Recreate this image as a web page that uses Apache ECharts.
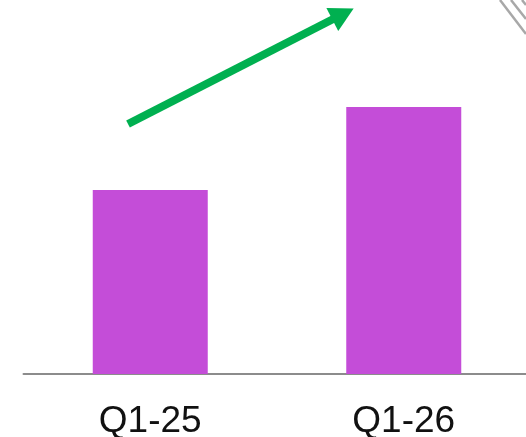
<!DOCTYPE html>
<html>
<head>
<meta charset="utf-8">
<script src="https://cdn.jsdelivr.net/npm/echarts@6/dist/echarts.min.js"></script>
<style>
  html, body { margin: 0; padding: 0; background: #fff; }
  #chart { width: 526px; height: 437px; }
</style>
</head>
<body>
<div id="chart"></div>
<script>
// Quarter-over-quarter comparison
const quarters = ['Q1-25', 'Q1-26'];
const revenue = [184, 267];
const axisMax = 374;

const chart = echarts.init(document.getElementById('chart'), null, { renderer: 'canvas' });

chart.setOption({
  animation: false,
  grid: {
    left: 23.5, width: 507, top: 0, bottom: 63,
    containLabel: false,
    outerBoundsMode: 'none'
  },
  xAxis: {
    type: 'category',
    data: quarters,
    boundaryGap: true,
    axisLine: { show: true, lineStyle: { color: '#8c8c8c', width: 2 } },
    axisTick: { show: false },
    axisLabel: {
      margin: 29,
      fontFamily: 'Liberation Sans, Arial, sans-serif',
      fontSize: 37,
      color: '#111'
    }
  },
  yAxis: {
    type: 'value',
    min: 0,
    max: axisMax,
    show: false,
    splitLine: { show: false }
  },
  series: [{
    type: 'bar',
    data: revenue,
    barWidth: 115,
    itemStyle: { color: '#c44dd8' },
    markLine: {
      silent: true,
      symbol: ['none', 'triangle'],
      symbolSize: [26, 24],
      label: { show: false },
      lineStyle: { color: '#00b050', width: 8, type: 'solid' },
      data: [[
        { x: 128, y: 124 },
        { x: 343, y: 14 }
      ]]
    }
  }],
  graphic: [
    { type: 'line', shape: { x1: 500, y1: 0, x2: 526, y2: 34 }, style: { stroke: '#a8a8a8', lineWidth: 2.5 } },
    { type: 'line', shape: { x1: 511, y1: 0, x2: 526, y2: 19 }, style: { stroke: '#a8a8a8', lineWidth: 2.5 } },
    { type: 'line', shape: { x1: 522, y1: 0, x2: 526, y2: 5 }, style: { stroke: '#a8a8a8', lineWidth: 2.5 } }
  ]
});
</script>
</body>
</html>
